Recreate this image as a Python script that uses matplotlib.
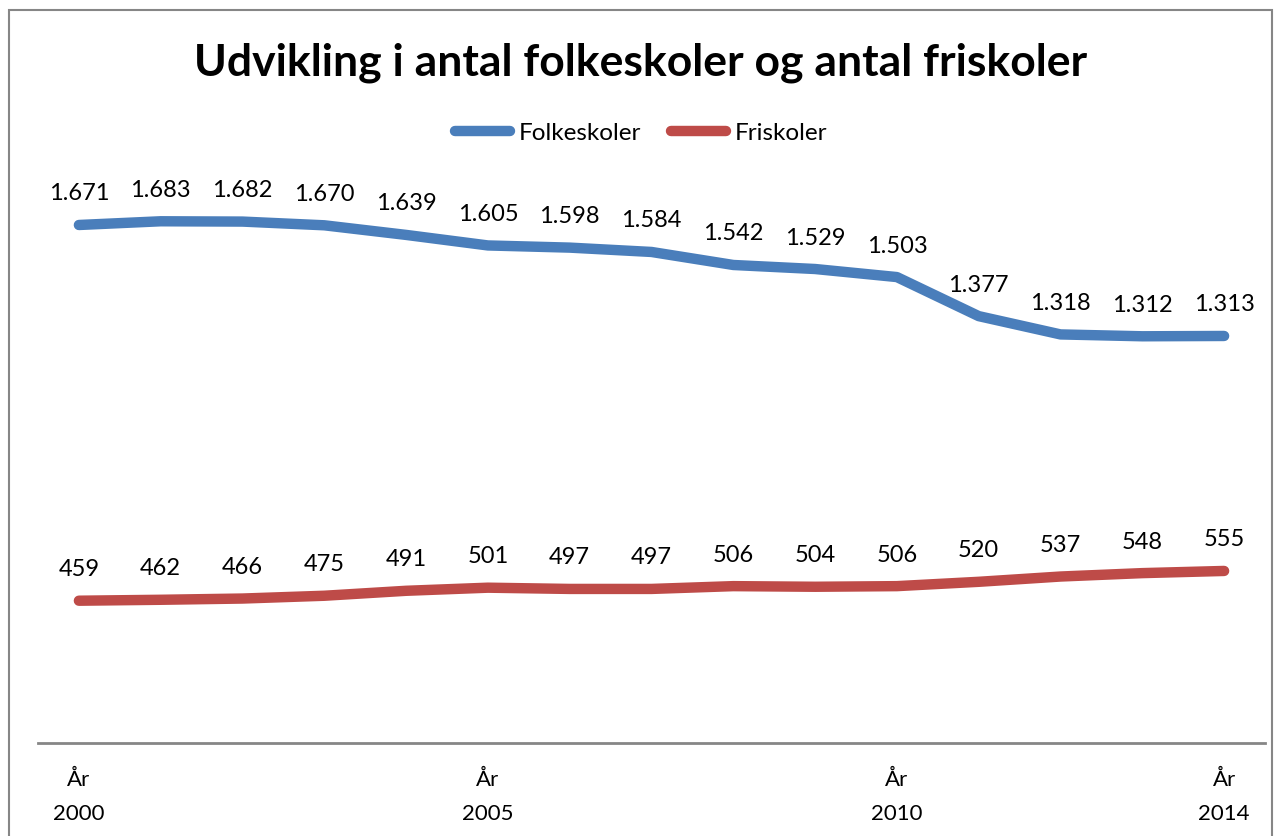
import matplotlib.pyplot as plt
from matplotlib.patches import Rectangle

plt.rcParams['font.family'] = ['Lato', 'DejaVu Sans']

years = ["2000", "2001", "2002", "2003", "2004", "2005", "2006", "2007",
         "2008", "2009", "2010", "2011", "2012", "2013", "2014"]
folkeskoler = [1671, 1683, 1682, 1670, 1639, 1605, 1598, 1584,
               1542, 1529, 1503, 1377, 1318, 1312, 1313]
friskoler = [459, 462, 466, 475, 491, 501, 497, 497,
             506, 504, 506, 520, 537, 548, 555]
shown_ticks = [0, 5, 10, 14]

blue = "#4a7ebb"
red = "#be4b48"


def fmt(v):
    return f"{v:,}".replace(",", ".")


fig = plt.figure(figsize=(12.82, 8.36), dpi=100)
ax = fig.add_axes([38 / 1282, (836 - 743) / 836, (1265 - 38) / 1282, (743 - 123) / 836])

x = list(range(len(years)))
ax.plot(x, folkeskoler, color=blue, lw=7.5, solid_capstyle="round",
        solid_joinstyle="round", label="Folkeskoler")
ax.plot(x, friskoler, color=red, lw=7.5, solid_capstyle="round",
        solid_joinstyle="round", label="Friskoler")

for i in x:
    ax.annotate(fmt(folkeskoler[i]), (i, folkeskoler[i]), xytext=(0, 31),
                textcoords="offset pixels", ha="center", va="center", fontsize=17)
    ax.annotate(fmt(friskoler[i]), (i, friskoler[i]), xytext=(0, 31),
                textcoords="offset pixels", ha="center", va="center", fontsize=17)

ax.set_xlim(-0.5, 14.5)
ax.set_ylim(0, 2000)
ax.set_xticks(shown_ticks)
ax.set_xticklabels(["År\n" + years[i] for i in shown_ticks], fontsize=16, linespacing=1.9)
ax.tick_params(axis="x", length=0, pad=19)
ax.set_yticks([])
for s in ["top", "right", "left"]:
    ax.spines[s].set_visible(False)
ax.spines["bottom"].set_color("#868686")
ax.spines["bottom"].set_linewidth(2)

fig.text(0.5, 1 - 63 / 836, "Udvikling i antal folkeskoler og antal friskoler",
         ha="center", va="center", fontsize=32, fontweight="bold")

leg = fig.legend(loc="center", bbox_to_anchor=(0.5, 1 - 133 / 836), ncol=2,
                 frameon=False, fontsize=17.5, handlelength=2.3, handletextpad=0.35,
                 columnspacing=1.2)

fig.patches.append(Rectangle((9 / 1282, -0.1), (1272 - 9) / 1282, 1.1 - 10 / 836,
                             transform=fig.transFigure, fill=False,
                             edgecolor="#868686", lw=1.5))

fig.savefig("out.png", dpi=100)
